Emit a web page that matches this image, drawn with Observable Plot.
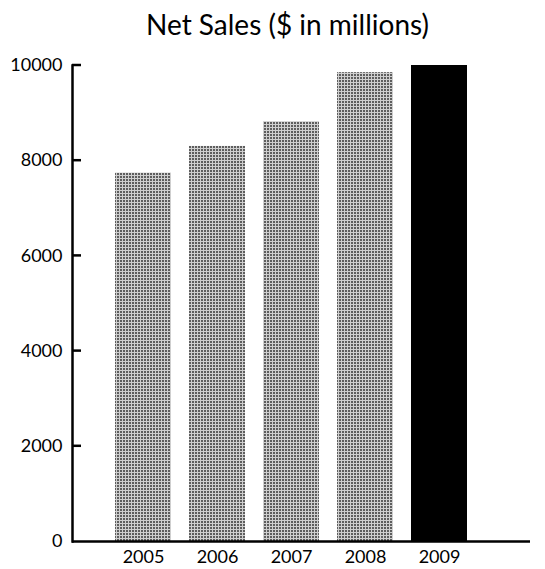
<!DOCTYPE html>
<html>
<head>
<meta charset="utf-8">
<script src="https://cdn.jsdelivr.net/npm/d3@7"></script>
<script src="https://cdn.jsdelivr.net/npm/@observablehq/plot@0.6"></script>
<style>
  body { margin: 0; background: #fff; }
  #title {
    width: 545px; height: 50px; box-sizing: border-box;
    padding-top: 7px; padding-left: 30px;
    text-align: center; font-family: Lato, sans-serif; font-size: 28px; color: #000;
  }
</style>
</head>
<body>
<div id="title">Net Sales ($ in millions)</div>
<div id="chart"></div>
<script>
// Net sales by fiscal year, $ in millions
const years = ["2005", "2006", "2007", "2008", "2009"];
const sales = [7740, 8300, 8820, 9850, 10000];
const yTicks = [0, 2000, 4000, 6000, 8000, 10000];

const rows = years.map((year, i) => ({year, sales: sales[i]}));
const latest = years[years.length - 1];

const ML = 72;
const tickLen = 9;

const chart = Plot.plot({
  width: 545,
  height: 519,
  marginTop: 15,
  marginBottom: 28,
  marginLeft: ML,
  marginRight: 15,
  style: {fontFamily: "Lato, sans-serif", fontSize: "18px", color: "#000", background: "#fff"},
  x: {domain: years, range: [106, 476], paddingInner: 0.24, paddingOuter: 0.12, label: null},
  y: {domain: [0, 10000], ticks: yTicks, tickFormat: "d", label: null},
  color: {type: "identity"},
  marks: [
    Plot.barY(rows, {
      x: "year",
      y: "sales",
      fill: d => d.year === latest ? "#000" : "url(#halftone)"
    }),
    Plot.axisY(yTicks, {tickSize: 0, tickPadding: 10, tickFormat: "d"}),
    Plot.frame({anchor: "left", strokeWidth: 2.5}),
    Plot.ruleY([0], {strokeWidth: 2.5}),
    Plot.axisX({tickSize: 0, tickPadding: 9})
  ]
});

const svg = d3.select(chart);

// Fine halftone screen used for the earlier years
const defs = svg.insert("defs", ":first-child");
const pat = defs.append("pattern")
  .attr("id", "halftone")
  .attr("patternUnits", "userSpaceOnUse")
  .attr("width", 3).attr("height", 3);
pat.append("rect").attr("width", 3).attr("height", 3).attr("fill", "#cfcfcf");
pat.append("rect").attr("width", 2).attr("height", 2).attr("fill", "#5e5e5e");

// Tick marks pointing into the plot from the value axis, placed by the chart's y scale
const yScale = chart.scale("y");
svg.append("g")
  .attr("stroke", "#000")
  .attr("stroke-width", 2.5)
  .selectAll("line")
  .data(yTicks.filter(d => d > 0))
  .join("line")
  .attr("x1", ML)
  .attr("x2", ML + tickLen)
  .attr("y1", d => yScale.apply(d))
  .attr("y2", d => yScale.apply(d));

document.getElementById("chart").appendChild(chart);
</script>
</body>
</html>
